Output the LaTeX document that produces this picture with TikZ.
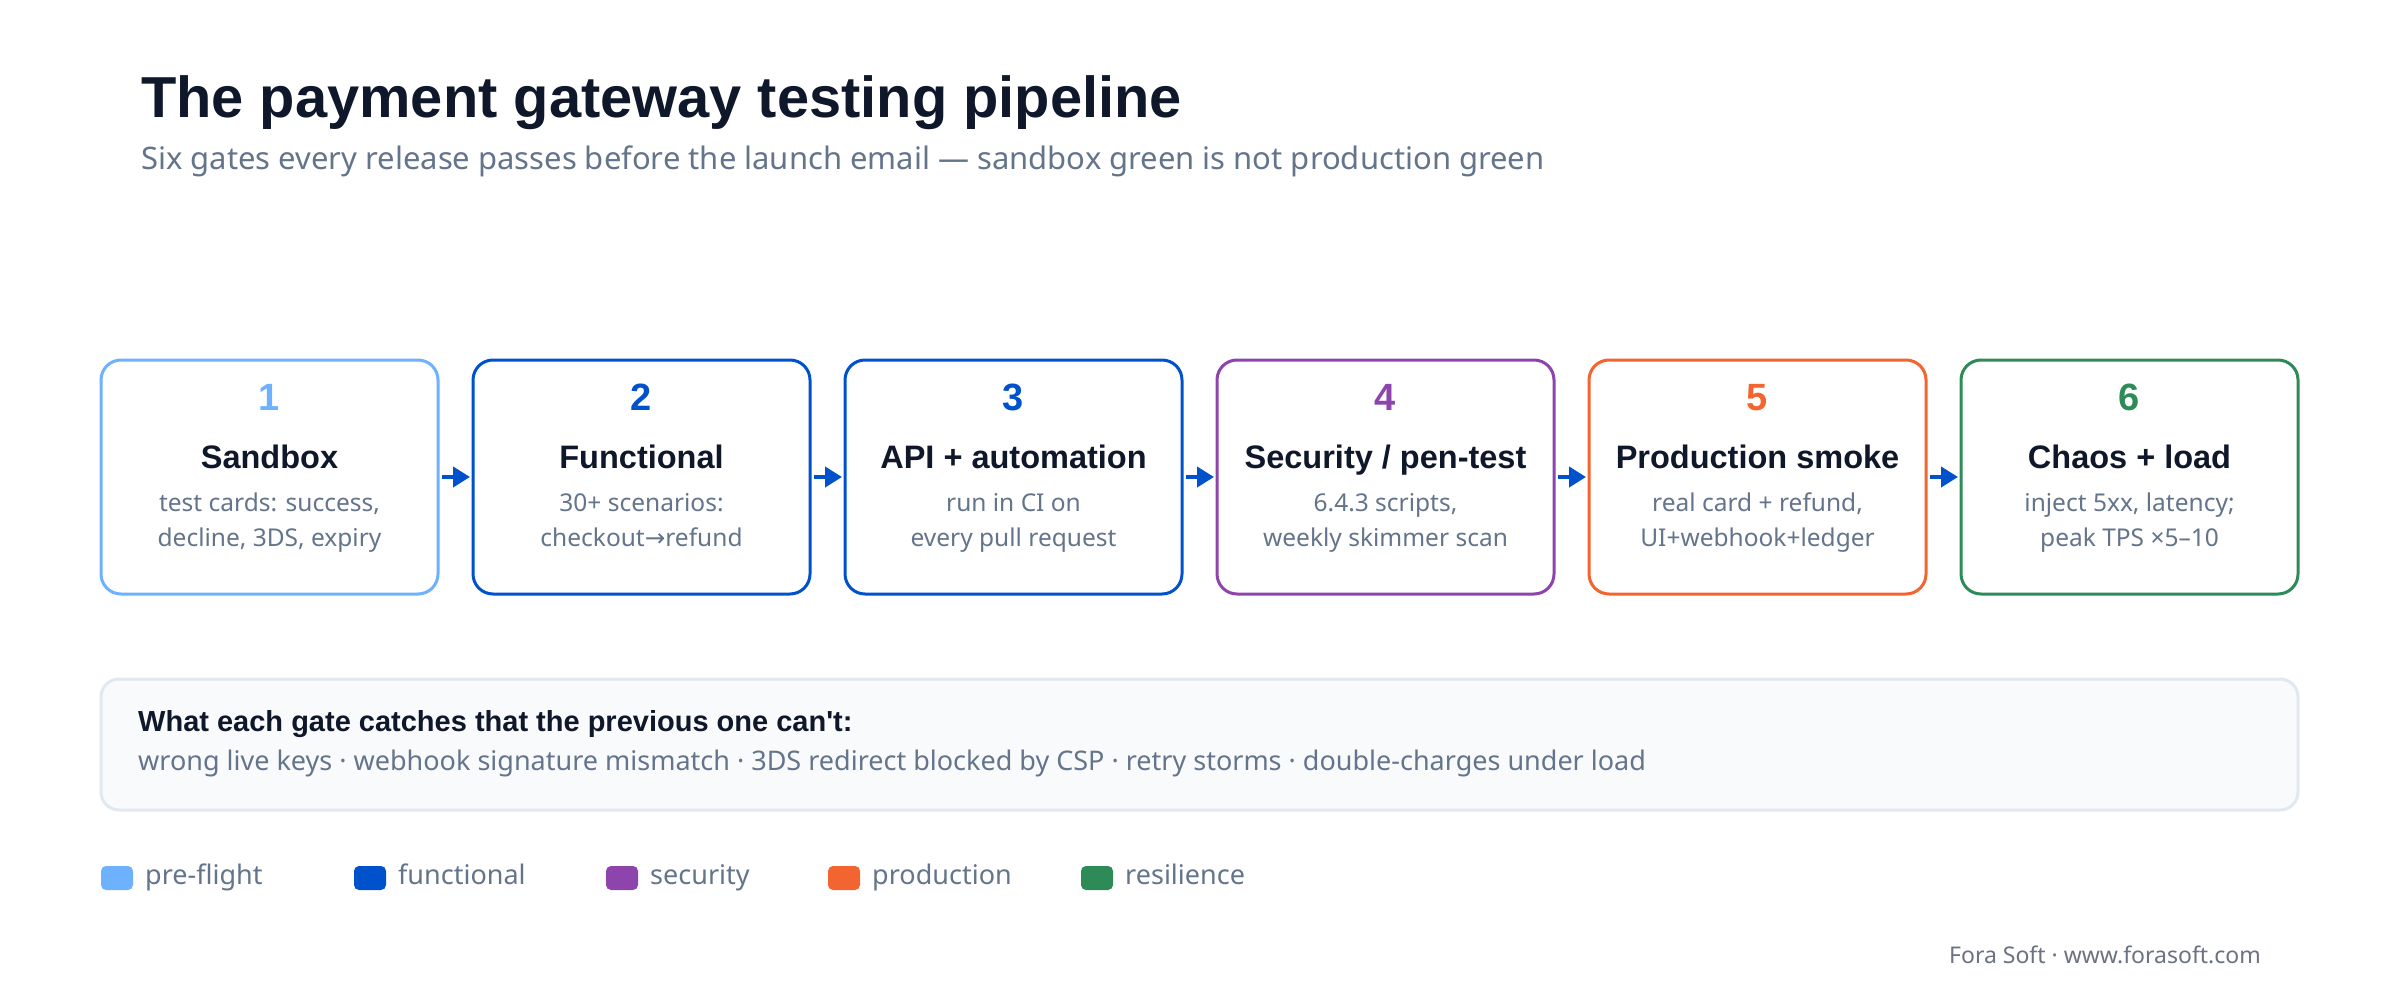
\documentclass[tikz,border=0pt]{standalone}
\usepackage{fontspec}
\setmainfont{Noto Sans}
\newfontfamily\headfont{Liberation Sans}
\newfontfamily\symfont{DejaVu Sans}
\usetikzlibrary{arrows.meta}
\definecolor{ink}{HTML}{0F172A}
\definecolor{muted}{HTML}{64748B}
\definecolor{foot}{HTML}{6B7280}
\definecolor{cPre}{HTML}{6EB1FF}
\definecolor{cFun}{HTML}{0052CC}
\definecolor{cSec}{HTML}{8E44AD}
\definecolor{cPro}{HTML}{F26430}
\definecolor{cRes}{HTML}{2E8B57}
\definecolor{panel}{HTML}{F8FAFC}
\definecolor{panelline}{HTML}{E2E8F0}
\tikzset{
  gatebox/.style={draw=#1, line width=3pt, rounded corners=20pt, fill=white},
  gatenum/.style={text=#1, font=\headfont\fontsize{38}{40}\selectfont\bfseries, anchor=base, inner sep=0pt},
  gatetitle/.style={text=ink, font=\headfont\fontsize{32.5}{36}\selectfont\bfseries, anchor=base, inner sep=0pt},
  gatedesc/.style={text=muted, font=\fontsize{24.5}{28}\selectfont, anchor=base, inner sep=0pt},
  flow/.style={draw=cFun, line width=4pt, -{Triangle[length=17pt,width=20pt]}, shorten <=4pt, shorten >=3pt},
  swatch/.style={fill=#1, rounded corners=5pt, draw=none},
  legtext/.style={text=muted, font=\fontsize{27}{30}\selectfont, anchor=base west, inner sep=0pt},
}
\newcommand{\gate}[7]{%
  \path[gatebox=#3] (#2,360) rectangle ++(337,234);
  \coordinate (bl#1) at (#2,477);
  \coordinate (br#1) at ({#2+337},477);
  \node[gatenum=#3] (num#1) at ({#2+168.5},410) {#4};
  \node[gatetitle] (ttl#1) at ({#2+168.5},468) {#5};
  \node[gatedesc] (dA#1) at ({#2+168.5},511) {#6};
  \node[gatedesc] (dB#1) at ({#2+168.5},546) {#7};
}
\begin{document}
\begin{tikzpicture}[x=1pt,y=-1pt]
\useasboundingbox (0,0) rectangle (2400,1000);
\fill[white] (0,0) rectangle (2400,1000);

\node[text=ink, font=\headfont\fontsize{57.8}{62}\selectfont\bfseries, anchor=base west, inner sep=0pt] (title) at (141,118) {The payment gateway testing pipeline};
\node[text=muted, font=\fontsize{31}{34}\selectfont, anchor=base west, inner sep=0pt] (subtitle) at (141,170) {Six gates every release passes before the launch email — sandbox green is not production green};

\gate{1}{101}{cPre}{1}{Sandbox}{test cards: success,}{decline, 3DS, expiry}
\gate{2}{473}{cFun}{2}{Functional}{30+ scenarios:}{checkout{\symfont→}refund}
\gate{3}{845}{cFun}{3}{API + automation}{run in CI on}{every pull request}
\gate{4}{1217}{cSec}{4}{Security / pen-test}{6.4.3 scripts,}{weekly skimmer scan}
\gate{5}{1589}{cPro}{5}{Production smoke}{real card + refund,}{UI+webhook+ledger}
\gate{6}{1961}{cRes}{6}{Chaos + load}{inject 5xx, latency;}{peak TPS ×5–10}

\draw[flow] (br1) -- (bl2);
\draw[flow] (br2) -- (bl3);
\draw[flow] (br3) -- (bl4);
\draw[flow] (br4) -- (bl5);
\draw[flow] (br5) -- (bl6);

\path[draw=panelline, fill=panel, line width=3pt, rounded corners=18pt] (101,679) rectangle (2298,810);
\node[text=ink, font=\headfont\fontsize{29}{32}\selectfont\bfseries, anchor=base west, inner sep=0pt] (catchhead) at (138,731) {What each gate catches that the previous one can't:};
\node[text=muted, font=\fontsize{27}{30}\selectfont, anchor=base west, inner sep=0pt] (catchtext) at (138,770) {wrong live keys · webhook signature mismatch · 3DS redirect blocked by CSP · retry storms · double-charges under load};

\path[swatch=cPre] (101,866) rectangle ++(32,24);
\node[legtext] (lg1) at (145,884) {pre-flight};
\path[swatch=cFun] (354,866) rectangle ++(32,24);
\node[legtext] (lg2) at (398,884) {functional};
\path[swatch=cSec] (606,866) rectangle ++(32,24);
\node[legtext] (lg3) at (650,884) {security};
\path[swatch=cPro] (828,866) rectangle ++(32,24);
\node[legtext] (lg4) at (872,884) {production};
\path[swatch=cRes] (1081,866) rectangle ++(32,24);
\node[legtext] (lg5) at (1125,884) {resilience};

\node[text=foot, font=\fontsize{23}{26}\selectfont, anchor=base east, inner sep=0pt] (footer) at (2261,963) {Fora Soft · www.forasoft.com};
\end{tikzpicture}
\end{document}
